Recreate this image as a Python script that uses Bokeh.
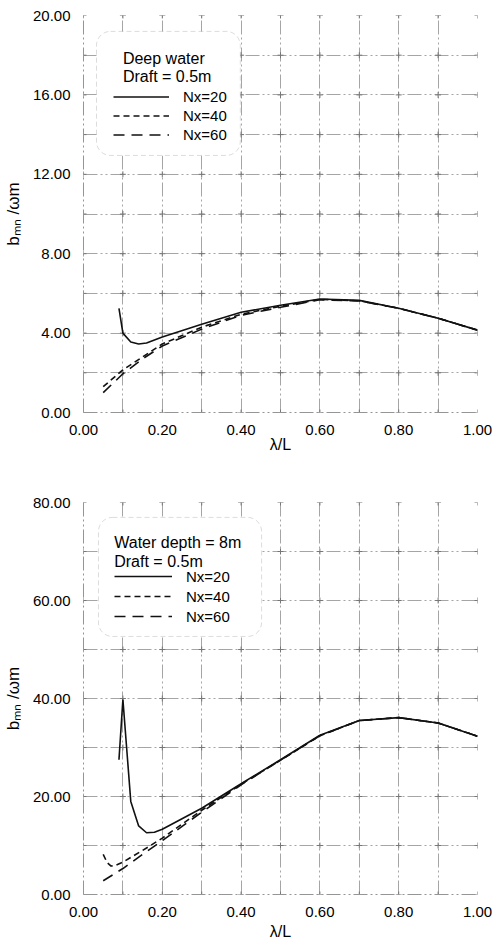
import numpy as np
from bokeh.plotting import figure
from bokeh.layouts import column
from bokeh.models import (Range1d, FixedTicker, NumeralTickFormatter, Legend, LegendItem,
                          Label, BoxAnnotation)
from bokeh.embed import file_html
from bokeh.resources import INLINE

# ---------------- data ----------------
top_x20 = [0.09, 0.10, 0.12, 0.14, 0.16, 0.20, 0.30, 0.40, 0.50, 0.60, 0.70, 0.80, 0.90, 1.00]
top_y20 = [5.25, 4.00, 3.55, 3.45, 3.50, 3.80, 4.45, 5.05, 5.40, 5.72, 5.65, 5.25, 4.75, 4.15]
top_x40 = [0.05, 0.10, 0.15, 0.20, 0.30, 0.40, 0.50, 0.60, 0.70, 0.80, 0.90, 1.00]
top_y40 = [1.30, 2.15, 2.80, 3.45, 4.30, 4.95, 5.35, 5.70, 5.63, 5.25, 4.75, 4.15]
top_x60 = [0.05, 0.10, 0.15, 0.20, 0.30, 0.40, 0.50, 0.60, 0.70, 0.80, 0.90, 1.00]
top_y60 = [1.00, 1.95, 2.70, 3.35, 4.20, 4.90, 5.30, 5.68, 5.62, 5.25, 4.75, 4.15]

bot_x20 = [0.09, 0.10, 0.12, 0.14, 0.16, 0.18, 0.20, 0.30, 0.40, 0.50, 0.60, 0.70, 0.80, 0.90, 1.00]
bot_y20 = [27.5, 39.8, 19.0, 14.0, 12.6, 12.7, 13.3, 17.6, 22.6, 27.5, 32.5, 35.5, 36.1, 35.0, 32.3]
bot_x40 = [0.05, 0.06, 0.07, 0.08, 0.10, 0.15, 0.20, 0.30, 0.40, 0.50, 0.60, 0.70, 0.80, 0.90, 1.00]
bot_y40 = [8.2, 6.5, 5.8, 5.9, 6.6, 9.0, 11.5, 17.2, 22.5, 27.4, 32.4, 35.5, 36.1, 35.0, 32.3]
bot_x60 = [0.05, 0.10, 0.15, 0.20, 0.30, 0.40, 0.50, 0.60, 0.70, 0.80, 0.90, 1.00]
bot_y60 = [2.8, 5.3, 8.2, 11.0, 16.8, 22.4, 27.4, 32.4, 35.5, 36.1, 35.0, 32.3]

x_ticks = [0.0, 0.2, 0.4, 0.6, 0.8, 1.0]
x_grid = [0.0, 0.1, 0.2, 0.3, 0.4, 0.5, 0.6, 0.7, 0.8, 0.9, 1.0]
top_y_ticks = [0, 4, 8, 12, 16, 20]
top_y_grid = [0, 2, 4, 6, 8, 10, 12, 14, 16, 18, 20]
bot_y_ticks = [0, 20, 40, 60, 80]
bot_y_grid = [0, 10, 20, 30, 40, 50, 60, 70, 80]

series_labels = ["Nx=20", "Nx=40", "Nx=60"]
top_title = ["Deep water", "Draft = 0.5m"]
bot_title = ["Water depth = 8m", "Draft = 0.5m"]

FONT = "Liberation Sans"
GRID_COLOR = "#959595"
GRID_DASH = "14 3 2 3 2 3"


def make_panel(xs, ys, ymax, yticks, ygrid, title_lines, height, mb_top, mb_bottom,
               xlabel_standoff, box, title_pos, legend_loc, row_h, glyph_w):
    p = figure(width=498, height=height, output_backend="svg", toolbar_location=None,
               x_range=Range1d(0, 1), y_range=Range1d(0, ymax),
               min_border_left=80, min_border_right=21,
               min_border_top=mb_top, min_border_bottom=mb_bottom)
    p.outline_line_color = None
    p.background_fill_color = "white"
    p.border_fill_color = "white"

    p.xgrid.ticker = FixedTicker(ticks=x_grid)
    p.ygrid.ticker = FixedTicker(ticks=ygrid)
    for g in (p.xgrid, p.ygrid):
        g.grid_line_color = GRID_COLOR
        g.grid_line_dash = GRID_DASH
        g.grid_line_width = 1
        g.grid_line_alpha = 0.85

    gx, gy = np.meshgrid(x_grid, ygrid)
    p.scatter(gx.ravel(), gy.ravel(), marker="cross", size=6, line_color="#777777",
              line_width=1)

    p.xaxis.ticker = FixedTicker(ticks=x_ticks)
    p.yaxis.ticker = FixedTicker(ticks=yticks)
    p.xaxis.formatter = NumeralTickFormatter(format="0.00")
    p.yaxis.formatter = NumeralTickFormatter(format="0.00")
    for ax in (p.xaxis, p.yaxis):
        ax.axis_line_color = GRID_COLOR
        ax.axis_line_dash = GRID_DASH
        ax.major_tick_line_color = None
        ax.minor_tick_line_color = None
        ax.major_label_text_font = FONT
        ax.major_label_text_font_size = "15px"
        ax.major_label_text_color = "black"
        ax.axis_label_text_font = FONT
        ax.axis_label_text_font_style = "normal"
        ax.axis_label_text_color = "black"
    p.xaxis.major_label_standoff = 6
    p.yaxis.major_label_standoff = 7
    p.xaxis.axis_label = "λ/L"
    p.xaxis.axis_label_text_font_size = "16px"
    p.xaxis.axis_label_standoff = xlabel_standoff
    p.yaxis.axis_label = "bₘₙ /ωm"
    p.yaxis.axis_label_text_font_size = "17px"
    p.yaxis.axis_label_standoff = 7

    r20 = p.line(xs[0], ys[0], line_color="#111111", line_width=1.6)
    r40 = p.line(xs[1], ys[1], line_color="#111111", line_width=1.6, line_dash="6 4")
    r60 = p.line(xs[2], ys[2], line_color="#111111", line_width=1.6, line_dash="11 7")

    p.add_layout(BoxAnnotation(left=box[0], right=box[1], top=box[2], bottom=box[3],
                               fill_color="white", fill_alpha=1.0,
                               line_color="#8a8a8a", line_dash="5 3", line_width=1,
                               border_radius=14))
    for i, t in enumerate(title_lines):
        p.add_layout(Label(x=title_pos[0], y=title_pos[1][i], text=t,
                           text_baseline="middle", text_align="left",
                           text_font=FONT, text_font_size="16px", text_color="black"))
    legend = Legend(items=[LegendItem(label=series_labels[0], renderers=[r20]),
                           LegendItem(label=series_labels[1], renderers=[r40]),
                           LegendItem(label=series_labels[2], renderers=[r60])],
                    location=legend_loc, orientation="vertical",
                    background_fill_alpha=0, border_line_color=None,
                    padding=0, margin=0, spacing=0,
                    glyph_height=row_h, label_height=row_h, glyph_width=glyph_w,
                    label_standoff=14, label_text_font=FONT, label_text_font_size="15px",
                    label_text_color="black")
    p.add_layout(legend)
    return p


top = make_panel([top_x20, top_x40, top_x60], [top_y20, top_y40, top_y60],
                 20, top_y_ticks, top_y_grid, top_title,
                 height=455, mb_top=15, mb_bottom=43, xlabel_standoff=-2,
                 box=(0.033, 0.398, 19.2, 12.95),
                 title_pos=(0.10, [17.83, 16.93]),
                 legend_loc=(30, 268), row_h=19, glyph_w=56)

bot = make_panel([bot_x20, bot_x40, bot_x60], [bot_y20, bot_y40, bot_y60],
                 80, bot_y_ticks, bot_y_grid, bot_title,
                 height=487, mb_top=47, mb_bottom=45, xlabel_standoff=3,
                 box=(0.038, 0.452, 76.96, 52.66),
                 title_pos=(0.078, [71.9, 68.05]),
                 legend_loc=(31, 268), row_h=20, glyph_w=58)

layout = column(top, bot, spacing=0)
open("out.html", "w").write(file_html(layout, INLINE))
